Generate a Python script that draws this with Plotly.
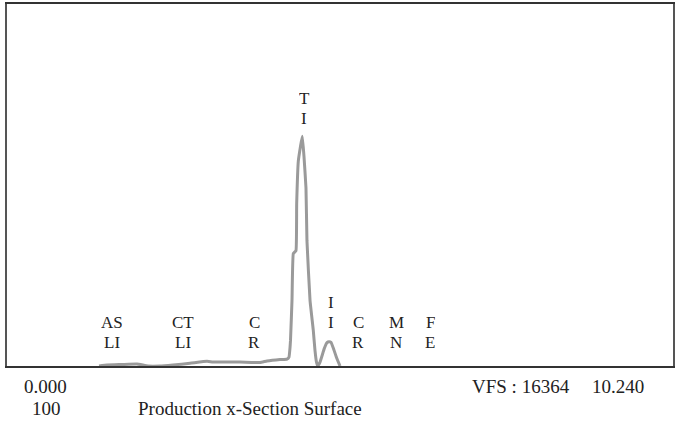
import plotly.graph_objects as go

# Spectrum trace (energy keV, counts)
energy_kev = [1.415, 1.538, 1.768, 1.999, 2.168, 2.352, 2.552, 2.814, 3.075, 3.167, 3.582,
              3.890, 3.998, 4.197, 4.305, 4.336, 4.351, 4.359, 4.382, 4.402, 4.443, 4.454,
              4.479, 4.513, 4.540, 4.566, 4.597, 4.612, 4.659, 4.709, 4.735, 4.758, 4.777,
              4.813, 4.879, 4.920, 4.951, 4.982, 5.017, 5.069, 5.120]
counts = [0, 45, 67, 90, 0, 0, 45, 121, 211, 180, 180,
          157, 225, 292, 315, 405, 809, 1169, 2967, 5080, 5215, 7328,
          9262, 9936, 10386, 9487, 8048, 5665, 2967, 1619, 719, 180, 0,
          180, 796, 1057, 1093, 1066, 809, 360, 0]

# Element labels (energy, top line, bottom line)
label_kev = [1.614, 2.706, 3.798, 4.574, 4.982, 5.397, 5.981, 6.504]
label_top = ["AS", "CT", "C", "T", "I", "C", "M", "F"]
label_bot = ["LI", "LI", "R", "I", "I", "R", "N", "E"]
label_top_y = [1978, 1978, 1978, 12094, 2877, 1978, 1978, 1978]
label_bot_y = [1079, 1079, 1079, 11195, 1978, 1079, 1079, 1079]

x_min, x_max = 0.0, 10.24
vfs = 16364

FONT = "Liberation Serif"
TXT = "#222222"

fig = go.Figure()
fig.add_trace(go.Scatter(x=energy_kev, y=counts, mode="lines",
                         line=dict(color="#9a9a9a", width=3, shape="spline", smoothing=0.3),
                         hoverinfo="skip", showlegend=False))

ann = []
for k, t, b, yt, yb in zip(label_kev, label_top, label_bot, label_top_y, label_bot_y):
    for txt, yy in ((t, yt), (b, yb)):
        ann.append(dict(x=k, y=yy, xref="x", yref="y", text=txt, showarrow=False,
                        font=dict(family=FONT, size=17, color=TXT), xanchor="center",
                        yanchor="middle", height=16, borderpad=0, valign="middle"))

W, H = 677, 422
L, R, T, B = 7, 4, 2, 56
pw, ph = W - L - R, H - T - B

def px(x):
    return (x - L) / pw

def py(y):
    return (H - B - y) / ph

bottom_texts = [
    (f"{x_min:.3f}", 45, 387, "center"),
    ("100", 46, 409, "center"),
    ("Production x-Section Surface", 136, 409, "left"),
    (f"VFS : {vfs}", 470, 387, "left"),
    (f"{x_max:.3f}", 590, 387, "left"),
]
for text, x, y, anchor in bottom_texts:
    ann.append(dict(x=px(x), y=py(y), xref="paper", yref="paper", text=text, showarrow=False,
                    font=dict(family=FONT, size=19, color=TXT), xanchor=anchor, yanchor="middle"))

fig.update_layout(
    width=W, height=H,
    margin=dict(l=L, r=R, t=T, b=B),
    paper_bgcolor="white", plot_bgcolor="white",
    annotations=ann,
    xaxis=dict(range=[x_min, x_max], showgrid=False, zeroline=False, showticklabels=False,
               ticks="", showline=True, linecolor="#333333", linewidth=1.5, mirror=True),
    yaxis=dict(range=[0, vfs], showgrid=False, zeroline=False, showticklabels=False,
               ticks="", showline=True, linecolor="#555555", linewidth=1.5, mirror=True),
)

fig.write_html("out.html", config={"displayModeBar": False},
               post_script="document.body.style.margin='0';")
